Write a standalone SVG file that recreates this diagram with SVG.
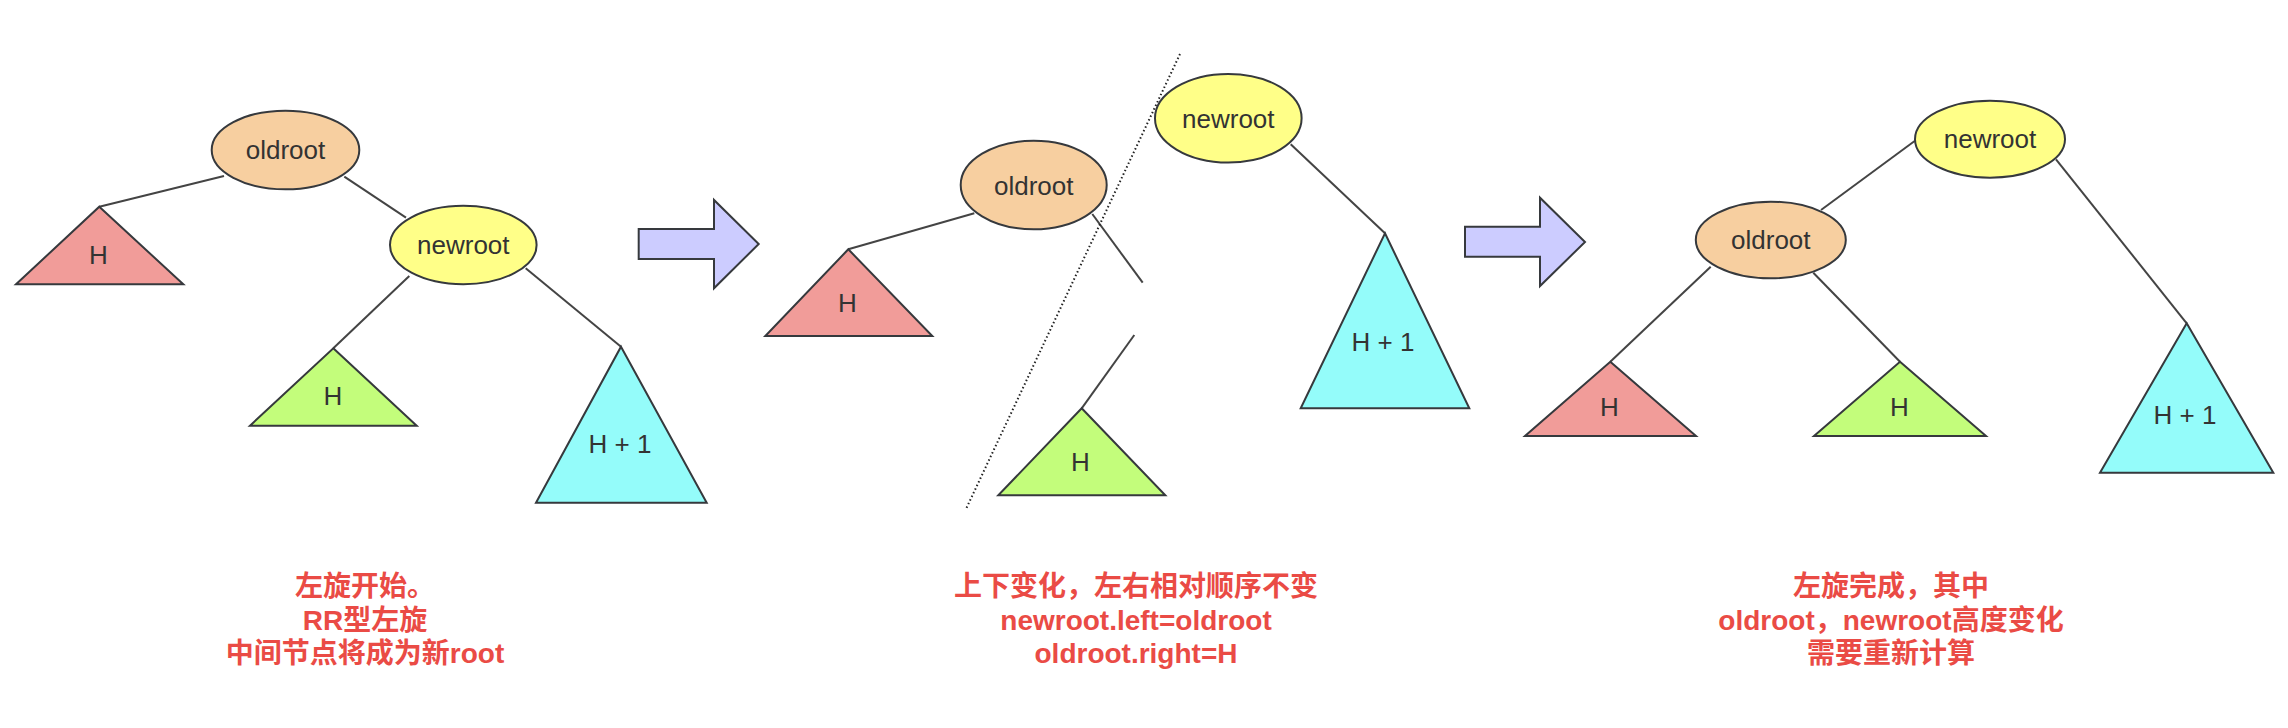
<svg xmlns="http://www.w3.org/2000/svg" width="2288" height="728" viewBox="0 0 2288 728">
<style>
.sh{stroke:#36393d;stroke-width:2;stroke-linejoin:miter}
.old{fill:#f7cfa0}
.new{fill:#ffff88}
.red{fill:#f19c99}
.grn{fill:#c3fd7b}
.cyn{fill:#94fcfa}
.arw{fill:#ccccff;stroke:#36393d;stroke-width:2}
.lbl{font-family:"Liberation Sans",Arial,sans-serif;font-size:26px;fill:#333333;text-anchor:middle}
.cn line{stroke:#444444;stroke-width:2}
.note{font-family:"Liberation Sans","Noto Sans CJK SC",sans-serif;font-size:28px;font-weight:bold;fill:#ea4b45;text-anchor:middle}
</style>
<rect width="2288" height="728" fill="#ffffff"/>

<g id="connectors" class="cn">
  <line x1="224" y1="176" x2="99.3" y2="206.7"/>
  <line x1="344.3" y1="176.7" x2="406" y2="217.7"/>
  <line x1="409.3" y1="276" x2="333.3" y2="348.3"/>
  <line x1="525.7" y1="268.3" x2="621" y2="346.7"/>
  <line x1="974.3" y1="213.3" x2="848.3" y2="249.3"/>
  <line x1="1092.3" y1="214" x2="1142.7" y2="282.7"/>
  <line x1="1134.3" y1="335" x2="1081.7" y2="408.3"/>
  <line x1="1290.7" y1="144.3" x2="1385" y2="233.3"/>
  <line x1="1821" y1="210" x2="1915" y2="140.7"/>
  <line x1="1710.7" y1="266.7" x2="1610.3" y2="361.7"/>
  <line x1="1813.3" y1="272.7" x2="1900" y2="361.7"/>
  <line x1="2056" y1="159.3" x2="2186.7" y2="323.3"/>
</g>

<g id="divider">
  <line x1="1180" y1="54" x2="966" y2="509" stroke="#222222" stroke-width="2" stroke-dasharray="1.5 2.5"/>
</g>

<g id="arrow1"><polygon class="arw" points="638.7,229 714,229 714,200 758.7,244 714,288.3 714,259 638.7,259"/></g>
<g id="arrow2"><polygon class="arw" points="1465,226.7 1540,226.7 1540,197.7 1585,242 1540,286 1540,256.7 1465,256.7"/></g>

<!-- Stage 1 -->
<g id="s1-oldroot"><ellipse class="sh old" cx="285.5" cy="150" rx="73.8" ry="39.3"/><text class="lbl" x="285.5" y="159.3">oldroot</text></g>
<g id="s1-newroot"><ellipse class="sh new" cx="463.3" cy="245" rx="73.3" ry="39.2"/><text class="lbl" x="463.3" y="254.3">newroot</text></g>
<g id="s1-h-red"><polygon class="sh red" points="99.3,206.7 183.3,284.3 16,284.3"/><text class="lbl" x="98.5" y="264">H</text></g>
<g id="s1-h-green"><polygon class="sh grn" points="333.3,348.3 416.7,425.7 250,425.7"/><text class="lbl" x="333" y="405">H</text></g>
<g id="s1-h1-cyan"><polygon class="sh cyn" points="621,346.7 706.7,502.7 536,502.7"/><text class="lbl" x="620" y="452.7">H + 1</text></g>

<!-- Stage 2 -->
<g id="s2-oldroot"><ellipse class="sh old" cx="1033.7" cy="185" rx="73" ry="44.3"/><text class="lbl" x="1033.7" y="194.5">oldroot</text></g>
<g id="s2-newroot"><ellipse class="sh new" cx="1228.3" cy="118.3" rx="73.3" ry="44.3"/><text class="lbl" x="1228.3" y="127.7">newroot</text></g>
<g id="s2-h-red"><polygon class="sh red" points="848.3,249.3 932.3,336 765.3,336"/><text class="lbl" x="847.5" y="312.3">H</text></g>
<g id="s2-h-green"><polygon class="sh grn" points="1081.7,408.3 1165.3,495.3 998.3,495.3"/><text class="lbl" x="1080.5" y="470.7">H</text></g>
<g id="s2-h1-cyan"><polygon class="sh cyn" points="1385,233.3 1469.3,408.3 1300.7,408.3"/><text class="lbl" x="1383" y="351">H + 1</text></g>

<!-- Stage 3 -->
<g id="s3-newroot"><ellipse class="sh new" cx="1990" cy="139.2" rx="75" ry="38.5"/><text class="lbl" x="1990" y="148.3">newroot</text></g>
<g id="s3-oldroot"><ellipse class="sh old" cx="1770.8" cy="240" rx="75" ry="38.3"/><text class="lbl" x="1770.8" y="249.3">oldroot</text></g>
<g id="s3-h-red"><polygon class="sh red" points="1610.3,361.7 1696,436 1525,436"/><text class="lbl" x="1609.5" y="416">H</text></g>
<g id="s3-h-green"><polygon class="sh grn" points="1900,361.7 1986,436 1814,436"/><text class="lbl" x="1899.5" y="416">H</text></g>
<g id="s3-h1-cyan"><polygon class="sh cyn" points="2186.7,323.3 2273.3,472.7 2100,472.7"/><text class="lbl" x="2185" y="424.3">H + 1</text></g>

<!-- Notes -->
<g id="note1">
  <text class="note" x="365" y="596">左旋开始。</text>
  <text class="note" x="365" y="629.5">RR型左旋</text>
  <text class="note" x="365" y="663">中间节点将成为新root</text>
</g>
<g id="note2">
  <text class="note" x="1136" y="596">上下变化，左右相对顺序不变</text>
  <text class="note" x="1136" y="629.5">newroot.left=oldroot</text>
  <text class="note" x="1136" y="663">oldroot.right=H</text>
</g>
<g id="note3">
  <text class="note" x="1891" y="596">左旋完成，其中</text>
  <text class="note" x="1891" y="629.5">oldroot，newroot高度变化</text>
  <text class="note" x="1891" y="663">需要重新计算</text>
</g>
</svg>
